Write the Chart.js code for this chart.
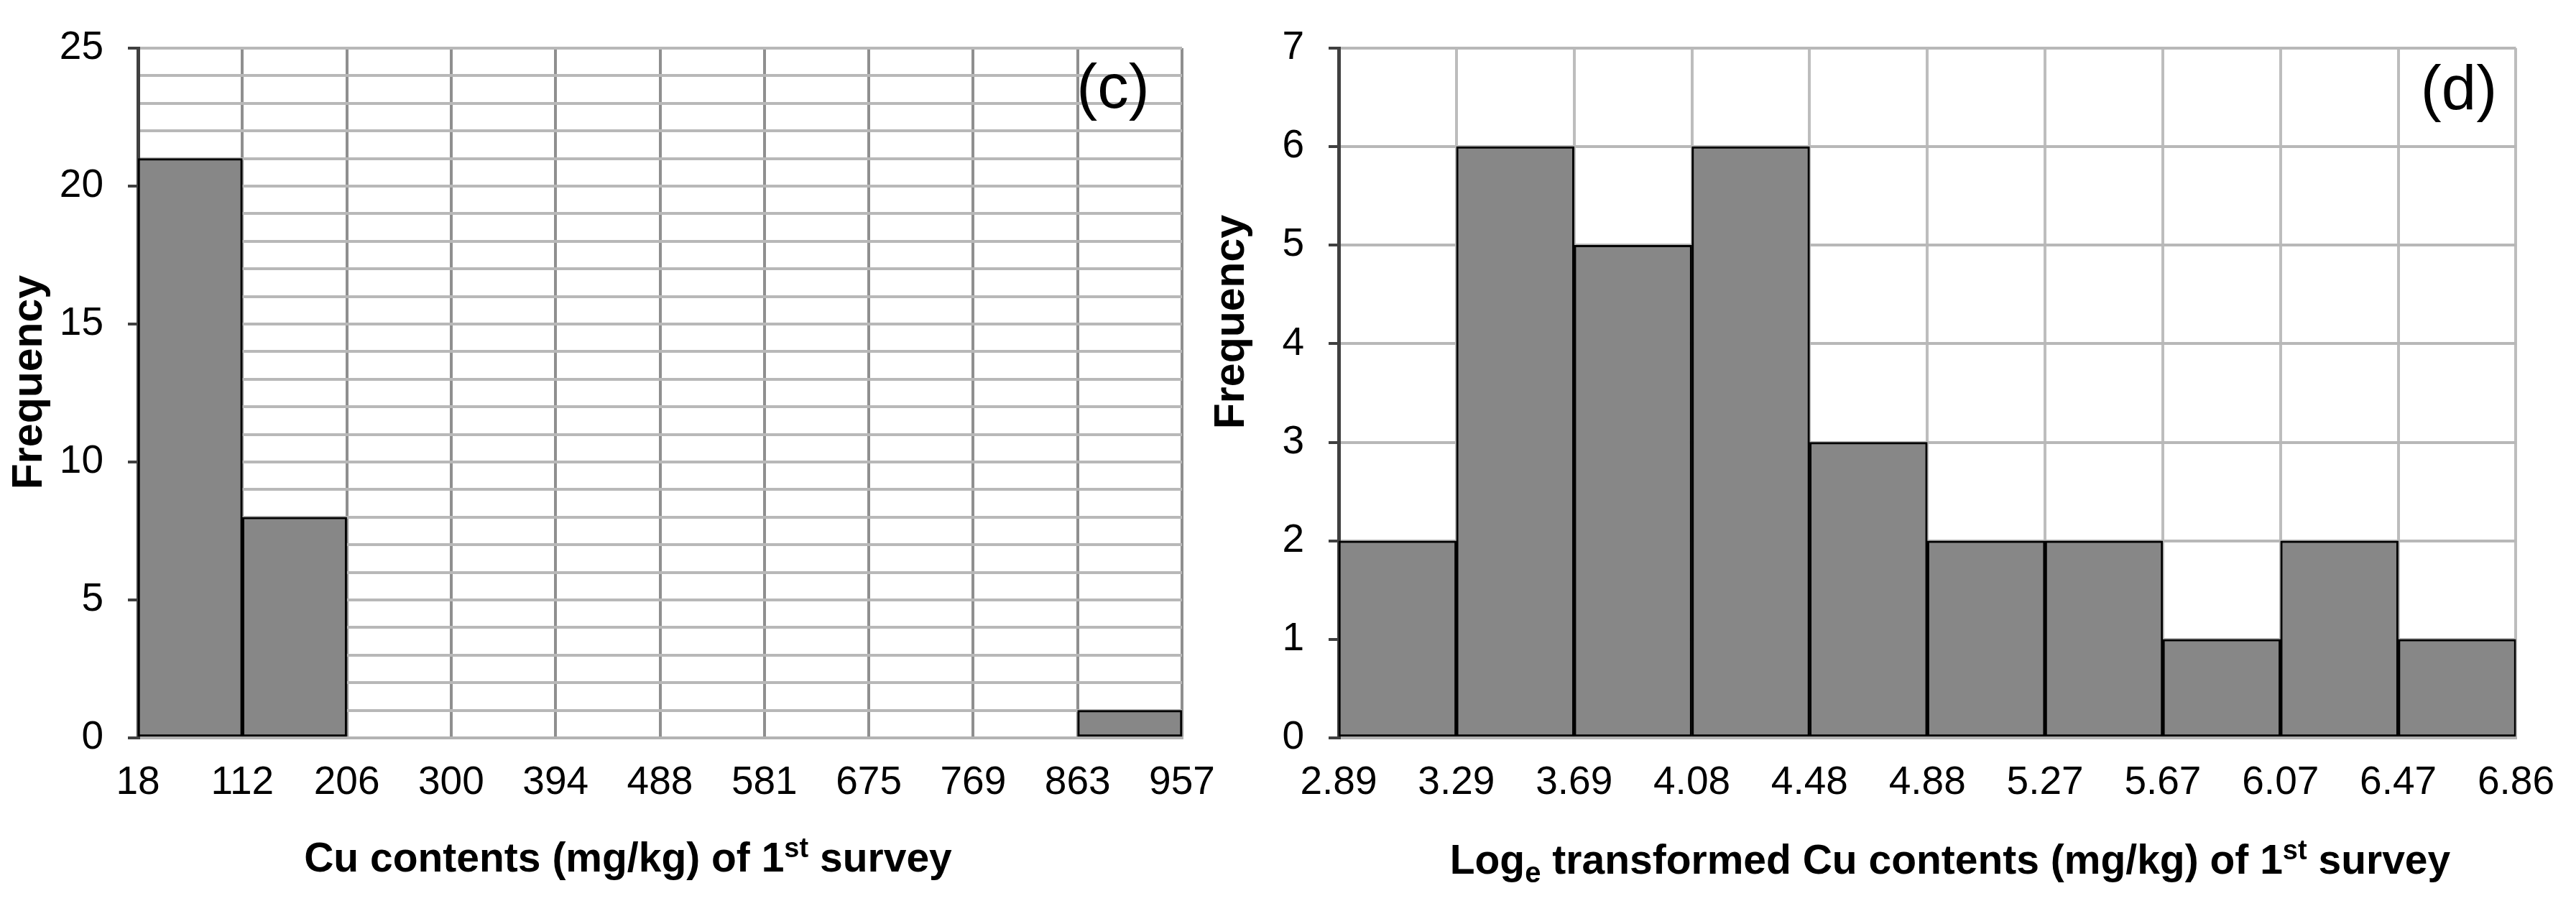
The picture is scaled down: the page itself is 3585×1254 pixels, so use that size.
<!DOCTYPE html>
<html>
<head>
<meta charset="utf-8">
<script src="https://cdn.jsdelivr.net/npm/chart.js@4.4.1/dist/chart.umd.min.js"></script>
<style>
  html, body { margin: 0; padding: 0; background: #fff; }
  body { width: 3585px; height: 1254px; position: relative; overflow: hidden; }
  canvas { position: absolute; top: 0; }
  #chartC { left: 0; width: 1760px; height: 1254px; }
  #chartD { left: 1680px; width: 1905px; height: 1254px; }
</style>
</head>
<body>
<canvas id="chartC" width="1760" height="1254"></canvas>
<canvas id="chartD" width="1905" height="1254"></canvas>
<script>
// bin edges (tick labels) and counts per bin
const cuEdges = ['18', '112', '206', '300', '394', '488', '581', '675', '769', '863', '957'];
const cuFreq = [21, 8, 0, 0, 0, 0, 0, 0, 0, 1];

const logEdges = ['2.89', '3.29', '3.69', '4.08', '4.48', '4.88', '5.27', '5.67', '6.07', '6.47', '6.86'];
const logFreq = [2, 6, 5, 6, 3, 2, 2, 1, 2, 1];

const FONT = "'Liberation Sans', Arial, sans-serif";

// draws axis titles (with super/subscripts) and the panel letter
const textPlugin = {
  id: 'panelText',
  afterDraw(chart, args, opts) {
    const ctx = chart.ctx;
    ctx.save();
    ctx.fillStyle = '#000';
    ctx.textBaseline = 'alphabetic';

    // x title made of segments
    let total = 0;
    opts.xTitle.forEach(seg => {
      ctx.font = 'bold ' + seg.size + 'px ' + FONT;
      seg.w = ctx.measureText(seg.text).width;
      total += seg.w;
    });
    let x = opts.xTitleX - total / 2;
    ctx.textAlign = 'left';
    opts.xTitle.forEach(seg => {
      ctx.font = 'bold ' + seg.size + 'px ' + FONT;
      ctx.fillText(seg.text, x, opts.xTitleY + (seg.dy || 0));
      x += seg.w;
    });

    // y title
    ctx.save();
    ctx.translate(opts.yTitleX, opts.yTitleY);
    ctx.rotate(-Math.PI / 2);
    ctx.textAlign = 'center';
    ctx.textBaseline = 'middle';
    ctx.font = 'bold 59px ' + FONT;
    ctx.fillText('Frequency', 0, 0);
    ctx.restore();

    // panel letter
    ctx.textAlign = 'center';
    ctx.font = '87px ' + FONT;
    ctx.fillText(opts.panel, opts.panelX, opts.panelY);
    ctx.restore();
  }
};

function makeHist(id, edges, freq, cfg) {
  const bars = freq.map((v, i) => ({ x: i + 0.5, y: v })).filter(p => p.y > 0);
  return new Chart(document.getElementById(id), {
    type: 'bar',
    data: {
      datasets: [{
        data: bars,
        backgroundColor: '#878787',
        borderColor: '#000',
        borderWidth: 3,
        borderSkipped: false,
        barPercentage: 1,
        categoryPercentage: 1,
        grouped: false
      }]
    },
    options: {
      responsive: false,
      animation: false,
      devicePixelRatio: 1,
      layout: { padding: { left: 0, right: cfg.padRight, top: 42, bottom: 0 } },
      plugins: {
        legend: { display: false },
        tooltip: { enabled: false },
        panelText: cfg.text
      },
      scales: {
        x: {
          type: 'linear',
          min: 0,
          max: edges.length - 1,
          offset: false,
          afterFit: s => { s.height = 227; },
          grid: {
            offset: false,
            drawTicks: false,
            lineWidth: 4,
            color: c => (c.index === 0 ? 'rgba(0,0,0,0)' : cfg.vGrid)
          },
          border: { color: '#b3b3b3', width: 4 },
          ticks: {
            stepSize: 1,
            autoSkip: false,
            maxRotation: 0,
            padding: 30,
            color: '#000',
            font: { family: FONT, size: 55 },
            callback: v => edges[v]
          }
        },
        y: {
          min: 0,
          max: cfg.yMax,
          afterFit: s => { s.width = cfg.yWidth; },
          grid: {
            lineWidth: 4,
            color: '#b8b8b8',
            tickLength: 14,
            tickWidth: 4,
            tickColor: c => (c.tick && c.tick.value % cfg.yLabelStep === 0 ? '#404040' : 'rgba(0,0,0,0)')
          },
          border: { color: '#404040', width: 5 },
          ticks: {
            stepSize: 1,
            autoSkip: false,
            padding: 34,
            color: '#000',
            font: { family: FONT, size: 55 },
            callback: v => (v % cfg.yLabelStep === 0 ? v : '')
          }
        }
      }
    },
    plugins: [textPlugin]
  });
}

makeHist('chartC', cuEdges, cuFreq, {
  padRight: 115,
  yWidth: 192,
  yMax: 25,
  yLabelStep: 5,
  vGrid: '#8f8f8f',
  text: {
    xTitle: [
      { text: 'Cu contents (mg/kg) of 1', size: 57 },
      { text: 'st', size: 38, dy: -20 },
      { text: ' survey', size: 57 }
    ],
    xTitleX: 874,
    xTitleY: 1213,
    yTitleX: 42,
    yTitleY: 532,
    panel: '(c)',
    panelX: 1549,
    panelY: 150
  }
});

makeHist('chartD', logEdges, logFreq, {
  padRight: 69,
  yWidth: 183,
  yMax: 7,
  yLabelStep: 1,
  vGrid: '#bdbdbd',
  text: {
    xTitle: [
      { text: 'Log', size: 57 },
      { text: 'e', size: 40, dy: 12 },
      { text: ' transformed Cu contents (mg/kg) of 1', size: 57 },
      { text: 'st', size: 38, dy: -20 },
      { text: ' survey', size: 57 }
    ],
    xTitleX: 1034,
    xTitleY: 1216,
    yTitleX: 35,
    yTitleY: 448,
    panel: '(d)',
    panelX: 1742,
    panelY: 152
  }
});
</script>
</body>
</html>
